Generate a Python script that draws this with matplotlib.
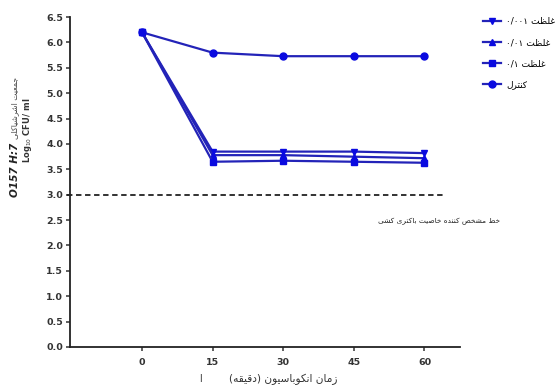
import matplotlib
matplotlib.use("Agg")
import matplotlib.pyplot as plt
from matplotlib.lines import Line2D

# data
times = [0, 15, 30, 45, 60]
conc_0001 = [6.2, 3.85, 3.85, 3.85, 3.82]
conc_001 = [6.2, 3.78, 3.78, 3.75, 3.72]
conc_01 = [6.2, 3.65, 3.67, 3.65, 3.63]
control = [6.2, 5.8, 5.73, 5.73, 5.73]
threshold = 3.0

series_labels = ["غلظت ۰/۰۰۱", "غلظت ۰/۰۱", "غلظت ۰/۱", "کنترل"]
series_markers = ["v", "^", "s", "o"]
yticks = [0.0, 0.5, 1.0, 1.5, 2.0, 2.5, 3.0, 3.5, 4.0, 4.5, 5.0, 5.5, 6.0, 6.5]

ylabel_fa = "جمعیت اشرشیاکلی"
xlabel_fa = "زمان انکوباسیون (دقیقه)"
note_fa = "خط مشخص کننده خاصیت باکتری کشی"


# tiny arabic shaper: matplotlib does not join letters or do RTL by itself
FORMS = {
    'ا': (0xFE8D, 0xFE8E, None, None),
    'ب': (0xFE8F, 0xFE90, 0xFE91, 0xFE92),
    'ت': (0xFE95, 0xFE96, 0xFE97, 0xFE98),
    'ج': (0xFE9D, 0xFE9E, 0xFE9F, 0xFEA0),
    'خ': (0xFEA5, 0xFEA6, 0xFEA7, 0xFEA8),
    'د': (0xFEA9, 0xFEAA, None, None),
    'ر': (0xFEAD, 0xFEAE, None, None),
    'ز': (0xFEAF, 0xFEB0, None, None),
    'س': (0xFEB1, 0xFEB2, 0xFEB3, 0xFEB4),
    'ش': (0xFEB5, 0xFEB6, 0xFEB7, 0xFEB8),
    'ص': (0xFEB9, 0xFEBA, 0xFEBB, 0xFEBC),
    'ط': (0xFEC1, 0xFEC2, 0xFEC3, 0xFEC4),
    'ظ': (0xFEC5, 0xFEC6, 0xFEC7, 0xFEC8),
    'ع': (0xFEC9, 0xFECA, 0xFECB, 0xFECC),
    'غ': (0xFECD, 0xFECE, 0xFECF, 0xFED0),
    'ق': (0xFED5, 0xFED6, 0xFED7, 0xFED8),
    'ل': (0xFEDD, 0xFEDE, 0xFEDF, 0xFEE0),
    'م': (0xFEE1, 0xFEE2, 0xFEE3, 0xFEE4),
    'ن': (0xFEE5, 0xFEE6, 0xFEE7, 0xFEE8),
    'ه': (0xFEE9, 0xFEEA, 0xFEEB, 0xFEEC),
    'و': (0xFEED, 0xFEEE, None, None),
    'ی': (0xFBFC, 0xFBFD, 0xFBFE, 0xFBFF),
    'ک': (0xFB8E, 0xFB8F, 0xFB90, 0xFB91),
}
LTR = set("0123456789۰۱۲۳۴۵۶۷۸۹/.:ABCDEFGHIJKLMNOPQRSTUVWXYZabcdefghijklmnopqrstuvwxyz")
MIRROR = {'(': ')', ')': '('}


def shape(s):
    out = []
    for i, c in enumerate(s):
        if c not in FORMS:
            out.append(c)
            continue
        prev = s[i - 1] if i > 0 else ''
        nxt = s[i + 1] if i + 1 < len(s) else ''
        jp = prev in FORMS and FORMS[prev][2] is not None
        jn = nxt in FORMS and FORMS[c][2] is not None
        iso, fin, ini, med = FORMS[c]
        if jp and jn:
            code = med
        elif jp:
            code = fin
        elif jn:
            code = ini
        else:
            code = iso
        out.append(chr(code))
    return ''.join(out)


def fa(s):
    s = shape(s)
    runs = []
    for c in s:
        ltr = c in LTR
        if runs and runs[-1][0] == ltr:
            runs[-1][1].append(c)
        else:
            runs.append([ltr, [c]])
    res = []
    for ltr, chars in reversed(runs):
        if ltr:
            res.append(''.join(chars))
        else:
            res.append(''.join(MIRROR.get(c, c) for c in reversed(chars)))
    return ''.join(res)


plt.rcParams['font.family'] = ['DejaVu Sans']

fig = plt.figure(figsize=(5.6, 3.89), dpi=100)
ax = fig.add_axes([0.125, 0.108, 0.696, 0.848])

line_col = '#2323b8'
mark_col = '#0a0ae0'
for vals, m in zip([conc_0001, conc_001, conc_01, control], series_markers):
    ax.plot(times, vals, color=line_col, lw=1.6, marker=m, ms=5,
            mfc=mark_col, mec=mark_col, zorder=3)

ax.plot([-16, 64], [threshold, threshold], color='#222222', lw=1.3,
        ls=(0, (3, 2)), clip_on=False)

ax.set_xlim(-15.3, 67.5)
ax.set_ylim(0, 6.5)
ax.set_xticks(times)
ax.set_yticks(yticks)
ax.set_yticklabels([f"{v:.1f}" for v in yticks])
for s in ['top', 'right']:
    ax.spines[s].set_visible(False)
for s in ['left', 'bottom']:
    ax.spines[s].set_linewidth(1.3)
    ax.spines[s].set_color('#222222')
ax.tick_params(direction='out', length=3, width=1.1, color='#333333',
               labelsize=6.8, labelcolor='#333333', pad=2)
for t in ax.get_xticklabels() + ax.get_yticklabels():
    t.set_fontweight('bold')
ax.tick_params(axis='x', pad=5)

# y label: two rotated lines
fig.text(0.027, 1 - 143 / 389, "O157 H:7", rotation=90, fontsize=7.5,
         fontweight='bold', style='italic', ha='center', va='top', color='#222222')
fig.text(0.027, 1 - 139 / 389, fa(ylabel_fa), rotation=90, fontsize=5.6,
         ha='center', va='bottom', color='#444444')
fig.text(0.05, 1 - 130 / 389, r"Log$_{10}$ CFU/ ml", rotation=90, fontsize=6,
         fontweight='bold', ha='center', va='center', color='#333333')

# x label
fig.text(283 / 560, 1 - 379 / 389, fa(xlabel_fa), fontsize=7.6,
         ha='center', va='center', color='#333333')
fig.text(200 / 560, 1 - 379 / 389, "ا", fontsize=7, ha='center', va='center',
         color='#333333')

# note next to the dashed line
fig.text(500 / 560, 1 - 221 / 389, fa(note_fa), fontsize=5.3,
         ha='right', va='center', color='#222222')

handles = [Line2D([], [], color=line_col, lw=1.6, marker=m, ms=5,
                  mfc=mark_col, mec=mark_col) for m in series_markers]
fig.legend(handles, [fa(l) for l in series_labels], loc='upper left',
           bbox_to_anchor=(483 / 560, 1 - 17 / 389), frameon=False,
           fontsize=6.5, handlelength=2.0, handletextpad=0.6,
           labelspacing=1.35, borderaxespad=0, borderpad=0)

fig.savefig("out.png", dpi=100)
